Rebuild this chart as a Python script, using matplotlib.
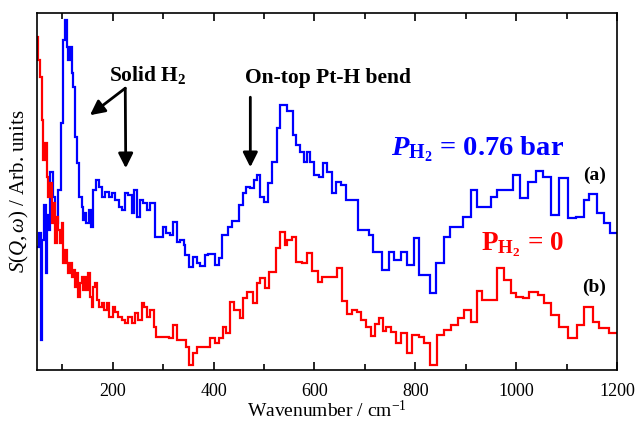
import matplotlib
matplotlib.use("Agg")
import matplotlib.pyplot as plt
from matplotlib.ticker import MultipleLocator

plt.rcParams['font.family'] = 'Liberation Serif'
plt.rcParams['mathtext.fontset'] = 'custom'
plt.rcParams['mathtext.rm'] = 'Liberation Serif'
plt.rcParams['mathtext.it'] = 'Liberation Serif:italic'
plt.rcParams['mathtext.bf'] = 'Liberation Serif:bold'
plt.rcParams['mathtext.bfit'] = 'Liberation Serif:italic:bold'

# bin edges (cm-1) and intensities (arb. units)
blue_edges = [50, 53, 57, 60, 64, 67, 70, 73, 76, 81, 86, 92, 97, 102, 105, 109, 112, 115, 119, 122,
              125, 129, 134, 139, 142, 145, 148, 154, 158, 162, 167, 172, 178, 185, 192, 198, 205, 212,
              219, 225, 231, 238, 242, 249, 254, 261, 268, 274, 284, 300, 306, 314, 320, 327, 334, 341,
              344, 351, 360, 367, 374, 383, 390, 403, 410, 417, 428, 437, 450, 458, 465, 473, 481, 486,
              493, 501, 509, 516, 525, 531, 546, 558, 564, 571, 579, 586, 592, 600, 609, 617, 625, 635,
              642, 652, 662, 686, 708, 717, 735, 748, 758, 771, 784, 797, 807, 830, 842, 857, 869, 895,
              910, 922, 950, 963, 993, 1008, 1024, 1039, 1054, 1069, 1086, 1102, 1119, 1135, 1145, 1160,
              1175, 1187, 1200]
blue_vals = [123, 137, 30, 130, 165, 97, 155, 140, 198, 173, 147, 180, 247, 330, 350, 323, 310, 323, 297,
             283, 233, 207, 173, 163, 150, 157, 147, 160, 143, 180, 190, 183, 173, 178, 173, 177, 170,
             163, 160, 177, 175, 157, 180, 153, 170, 167, 160, 167, 133, 143, 137, 135, 148, 128, 130,
             125, 115, 103, 113, 107, 104, 115, 116, 105, 112, 135, 143, 149, 165, 177, 183, 182, 190,
             195, 173, 168, 187, 208, 242, 265, 259, 235, 225, 218, 208, 218, 208, 195, 193, 207, 198,
             177, 188, 185, 170, 140, 135, 118, 100, 118, 110, 118, 105, 132, 95, 77, 107, 133, 143,
             153, 180, 163, 173, 180, 195, 172, 188, 199, 193, 155, 192, 152, 153, 170, 176, 157, 147,
             137]

red_edges = [50, 52.5, 56, 59, 62.4, 65.7, 69, 72.3, 75.6, 79, 82.3, 85.6, 89, 92.2, 95.5, 98.8, 102,
             105.4, 108.7, 112, 115.4, 118.7, 122, 125.3, 128.6, 132, 135.2, 138.5, 142, 145.2, 148.5,
             152, 155, 158.4, 161.7, 165, 168.3, 173.6, 178.3, 183, 188, 193.5, 200, 205.4, 211.4, 218,
             224.6, 231.2, 238, 244.5, 251, 257.7, 262.4, 267.7, 274, 282, 286, 311, 319, 327, 346, 352,
             360, 367, 394, 403, 410, 419, 425, 432, 440, 452, 458, 466, 478, 486, 493, 503, 511, 523,
             531, 541, 546, 556, 564, 576, 586, 596, 608, 616, 645, 655, 665, 675, 685, 692, 702, 712,
             720, 728, 736, 743, 751, 761, 771, 784, 794, 808, 817, 830, 843, 857, 870, 884, 897, 910,
             922, 933, 963, 976, 990, 999, 1013, 1026, 1043, 1056, 1069, 1086, 1102, 1121, 1135, 1152,
             1165, 1185, 1200]
red_vals = [333, 310, 293, 250, 210, 227, 193, 173, 187, 147, 167, 127, 153, 140, 127, 147, 107, 120,
            107, 97, 107, 93, 100, 83, 97, 73, 87, 93, 80, 93, 80, 97, 73, 63, 83, 87, 70, 63, 67, 60,
            67, 53, 63, 58, 53, 50, 47, 53, 47, 57, 50, 67, 63, 53, 60, 43, 33, 32, 45, 30, 23, 5, 17,
            23, 32, 27, 32, 43, 37, 68, 60, 52, 72, 78, 67, 87, 92, 82, 98, 122, 138, 125, 130, 133,
            108, 107, 117, 99, 88, 93, 102, 69, 56, 60, 58, 50, 43, 34, 46, 52, 39, 43, 38, 27, 37, 17,
            35, 33, 27, 5, 35, 40, 45, 52, 60, 48, 79, 70, 102, 90, 77, 73, 72, 78, 75, 67, 55, 43, 32,
            45, 63, 48, 42, 37]

fig = plt.figure(figsize=(6.38, 4.26), dpi=100)
ax = fig.add_axes([0.058, 0.131, 0.909, 0.838])

ax.stairs(blue_vals, blue_edges, baseline=None, color='#0000ff', lw=1.6)
ax.stairs(red_vals, red_edges, baseline=None, color='#ff0000', lw=1.6)

ax.set_xlim(50, 1200)
ax.set_ylim(0, 357)
ax.xaxis.set_major_locator(MultipleLocator(200))
ax.xaxis.set_minor_locator(MultipleLocator(100))
ax.set_yticks([])
ax.tick_params(axis='x', which='both', direction='in', top=True, labelsize=13, pad=9)
ax.tick_params(axis='x', which='major', length=6, width=1.2)
ax.tick_params(axis='x', which='minor', length=4, width=1.2)
for s in ax.spines.values():
    s.set_linewidth(1.2)

ax.set_xlabel(r'Wavenumber / cm$^{-1}$', fontsize=14, labelpad=0)
ax.set_ylabel(r'$S(Q,\omega)$ / Arb. units', fontsize=15, labelpad=4)

# annotations
arw = dict(arrowstyle='-|>', color='black', lw=2, mutation_scale=22, shrinkA=0, shrinkB=0)
ax.annotate('', xy=(155, 255), xytext=(225, 282), arrowprops=arw)
ax.annotate('', xy=(226, 202), xytext=(225, 282), arrowprops=arw)
ax.annotate('', xy=(473, 203), xytext=(473, 273), arrowprops=arw)

ax.text(270, 295, r'Solid H$_\mathbf{2}$', fontsize=15.5, fontweight='bold', ha='center', va='center')
ax.text(627, 292, 'On-top Pt-H bend', fontsize=15.5, fontweight='bold', ha='center', va='center')
ax.text(751, 215, r'$\mathbfit{P}_{\mathbf{H_2}}$ = 0.76 bar', fontsize=20.5, fontweight='bold',
        color='#0000ff', ha='left', va='baseline')
ax.text(930, 120, r'P$_{\mathbf{H_2}}$ = 0', fontsize=19.5, fontweight='bold',
        color='#ff0000', ha='left', va='baseline')
ax.text(1155, 195, '(a)', fontsize=14, fontweight='bold', ha='center', va='center')
ax.text(1155, 83, '(b)', fontsize=14, fontweight='bold', ha='center', va='center')

fig.savefig('out.png', dpi=100)
